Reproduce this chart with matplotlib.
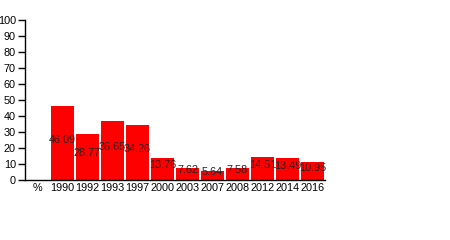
import matplotlib
matplotlib.use("Agg")
import matplotlib.pyplot as plt

categories = ["%", "1990", "1992", "1993", "1997", "2000", "2003", "2007", "2008", "2012", "2014", "2016"]
values = [None, 46.09, 28.77, 36.65, 34.26, 13.76, 7.62, 5.64, 7.58, 14.51, 13.49, 10.95]
yticks = list(range(0, 101, 10))

plt.rcParams['font.family'] = ['Liberation Sans', 'DejaVu Sans']
fig = plt.figure(figsize=(4.5, 2.4), dpi=100)
ax = fig.add_axes([25/450, 1-180/240, 300/450, 160/240])

xs = list(range(len(categories)))
for x, v in zip(xs, values):
    if v is None:
        continue
    ax.bar(x, v, width=0.92, color="#ff0000")
    ax.text(x, v/2 + 2.2, f"{v:.2f}", ha="center", va="center", fontsize=7.8, color="#222222")

ax.set_xlim(-0.5, len(categories) - 0.5)
ax.set_ylim(0, 100)
ax.set_yticks(yticks)
ax.set_yticklabels([str(t) for t in yticks], fontsize=7.8)
ax.set_xticks(xs)
ax.set_xticklabels(categories, fontsize=7.8)
ax.tick_params(axis='x', length=0, pad=2.5)
ax.tick_params(axis='y', length=5, width=1, pad=1.5)
for s in ["top", "right"]:
    ax.spines[s].set_visible(False)
ax.spines["left"].set_linewidth(1)
ax.spines["bottom"].set_linewidth(1)

fig.savefig("out.png", dpi=100)
